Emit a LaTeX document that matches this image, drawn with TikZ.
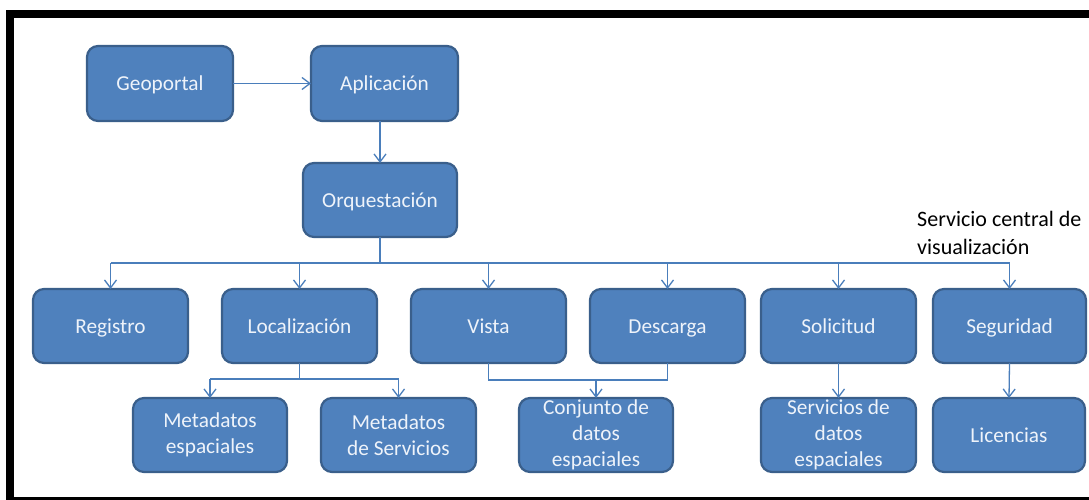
\documentclass[tikz,border=0pt]{standalone}
\usepackage{fontspec}
\setmainfont{Carlito}
\usetikzlibrary{arrows.meta}
\definecolor{boxfill}{HTML}{4F81BD}
\definecolor{boxline}{HTML}{3A5F8B}
\definecolor{conn}{HTML}{4A7EBB}
\definecolor{boxtext}{HTML}{EEF3FA}
\tikzset{
  bx/.style={draw=boxline, fill=boxfill, line width=2.2pt, rounded corners=11pt,
    text=boxtext, align=center, inner sep=0pt, outer sep=0pt,
    font=\fontsize{21.3}{26.3}\selectfont},
  one/.style={text height=16pt, text depth=1.6pt},
  ln/.style={draw=conn, line width=1.3pt},
  arr/.style={ln, -{Straight Barb[length=8pt,width=12pt]}},
}
\begin{document}
\begin{tikzpicture}[x=1pt,y=-1pt]
\useasboundingbox (0,0) rectangle (1089,500);
% frame
\fill[black] (6,10) rectangle (1089,18);
\fill[black] (6,10) rectangle (14,500);
\fill[black] (6,497.3) rectangle (1089,500);
% boxes
\node[bx, one, minimum width=146pt, minimum height=75pt] (geo) at (160,83.5) {Geoportal};
\node[bx, one, minimum width=147pt, minimum height=75pt] (apl) at (384.5,83.5) {Aplicación};
\node[bx, one, minimum width=154pt, minimum height=74pt] (orq) at (380,200) {Orquestación};
\node[bx, one, minimum width=155pt, minimum height=74pt] (reg) at (110.5,326) {Registro};
\node[bx, one, minimum width=155pt, minimum height=74pt] (loc) at (299.5,326) {Localización};
\node[bx, one, minimum width=155pt, minimum height=74pt] (vis) at (488.5,326) {Vista};
\node[bx, one, minimum width=155pt, minimum height=74pt] (des) at (667.5,326) {Descarga};
\node[bx, one, minimum width=155pt, minimum height=74pt] (sol) at (838.5,326) {Solicitud};
\node[bx, one, minimum width=153pt, minimum height=74pt] (seg) at (1009.5,326) {Seguridad};
\node[bx, minimum width=154pt, minimum height=74pt] (mes) at (210,435) {Metadatos\\espaciales};
\node[bx, minimum width=155pt, minimum height=74pt] (mse) at (398.5,435) {Metadatos\\de Servicios};
\node[bx, minimum width=154pt, minimum height=74pt] (con) at (596,435) {Conjunto de\\datos\\espaciales};
\node[bx, minimum width=155pt, minimum height=74pt] (sds) at (838.5,435) {Servicios de\\datos\\espaciales};
\node[bx, one, minimum width=152pt, minimum height=74pt] (lic) at (1009,435) {Licencias};
% label
\node[anchor=north west, inner sep=0pt, align=left, font=\fontsize{22}{28.5}\selectfont] (lbl) at (917,211) {Servicio central de\\visualización};
% connectors
\draw[arr] (geo.east) -- (apl.west);
\draw[arr] (apl.south -| orq.north) -- (orq.north);
\coordinate (bus) at (380,263);
\draw[ln] (orq.south) -- (bus);
\draw[ln] (bus -| reg.north) -- (bus -| seg.north);
\foreach \n in {reg,loc,vis,des,sol,seg}{
  \draw[arr] (bus -| \n.north) -- (\n.north);
}
\coordinate (lb) at (299.5,379);
\draw[ln] (loc.south) -- (lb);
\draw[ln] (lb -| mes.north) -- (lb -| mse.north);
\draw[arr] (lb -| mes.north) -- (mes.north);
\draw[arr] (lb -| mse.north) -- (mse.north);
\coordinate (vb) at (596,380);
\draw[ln] (vis.south) |- (vb) -| (des.south);
\draw[arr] (vb) -- (con.north);
\draw[arr] (sol.south) -- (sds.north);
\draw[arr] (seg.south) -- (lic.north);
\end{tikzpicture}
\end{document}
